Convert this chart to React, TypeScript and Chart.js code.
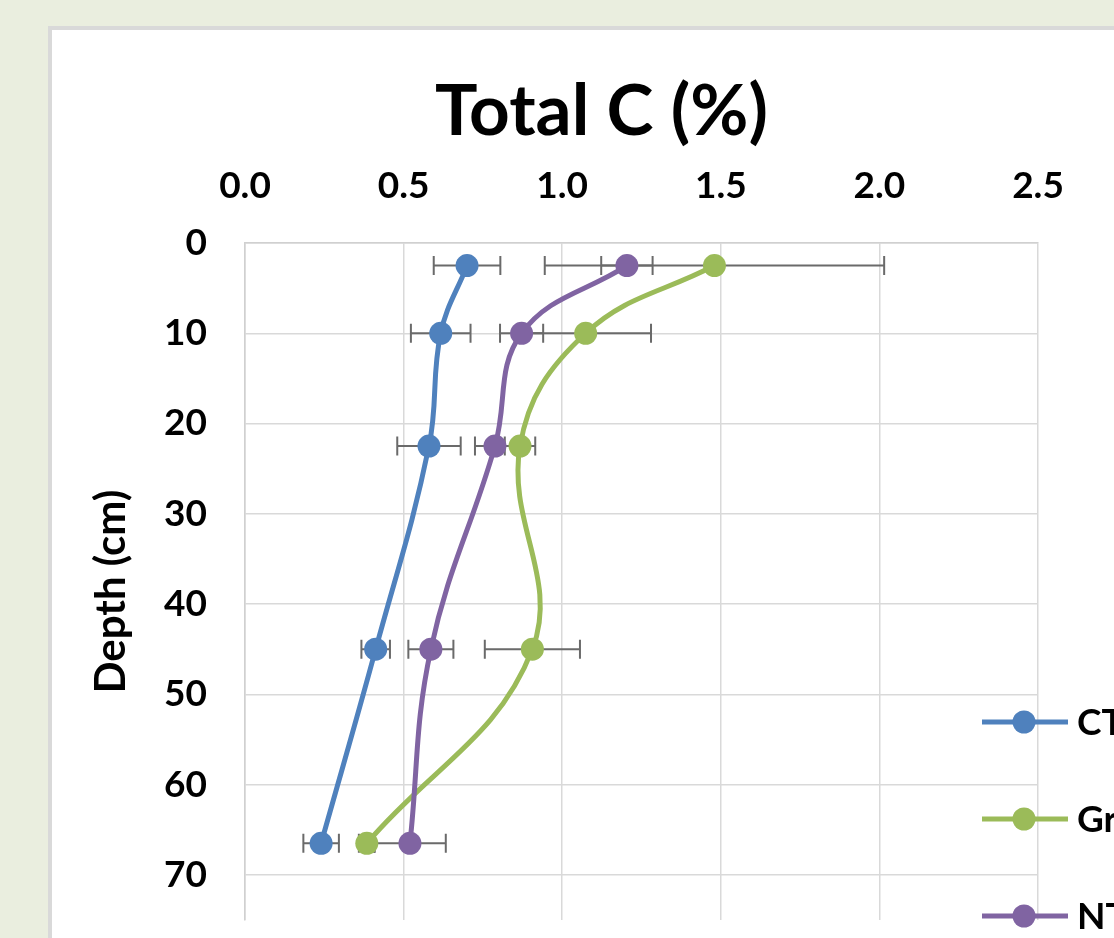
import React, { useEffect, useRef } from "react";
import { Chart, registerables } from "chart.js";

Chart.register(...registerables);

// ---- data ----
const depths = [2.5, 10, 22.5, 45, 66.5];
const ctValues = [0.70, 0.617, 0.58, 0.412, 0.24];
const ctErrors = [0.105, 0.094, 0.10, 0.045, 0.056];
const grassValues = [1.48, 1.074, 0.867, 0.906, 0.384];
const grassErrors = [0.535, 0.206, 0.048, 0.15, 0.025];
const ntValues = [1.204, 0.872, 0.788, 0.586, 0.52];
const ntErrors = [0.081, 0.068, 0.063, 0.071, 0.113];
const seriesNames = ["CT", "Grass", "NT"];
const xTickValues = [0, 0.5, 1.0, 1.5, 2.0, 2.5];
const yTickValues = [0, 10, 20, 30, 40, 50, 60, 70];
const chartTitle = "Total C (%)";
const yAxisTitle = "Depth (cm)";

const COLORS = ["#4f81bd", "#9bbb59", "#8064a2"];
const FONT = "Lato, 'Open Sans', sans-serif";

const errorBarPlugin = {
  id: "errorBars",
  beforeDatasetsDraw(chart: any) {
    const ctx = chart.ctx;
    const xs = chart.scales.x;
    const ys = chart.scales.y;
    ctx.save();
    ctx.strokeStyle = "#6a6a6a";
    ctx.lineWidth = 2;
    chart.data.datasets.forEach((ds: any) => {
      const errs: number[] = ds.errors || [];
      ds.data.forEach((p: any, i: number) => {
        const e = errs[i];
        if (e == null) return;
        const y = ys.getPixelForValue(p.y);
        const x1 = xs.getPixelForValue(p.x - e);
        const x2 = xs.getPixelForValue(p.x + e);
        const cap = 9.5;
        ctx.beginPath();
        ctx.moveTo(x1, y);
        ctx.lineTo(x2, y);
        ctx.moveTo(x1, y - cap);
        ctx.lineTo(x1, y + cap);
        ctx.moveTo(x2, y - cap);
        ctx.lineTo(x2, y + cap);
        ctx.stroke();
      });
    });
    ctx.restore();
  },
};

const textPlugin = {
  id: "customText",
  afterDraw(chart: any) {
    const ctx = chart.ctx;
    ctx.save();
    ctx.fillStyle = "#000";
    // chart title
    ctx.font = `bold 71px ${FONT}`;
    ctx.textAlign = "center";
    ctx.textBaseline = "alphabetic";
    ctx.fillText(chartTitle, 601.5, 135);
    // y axis title
    ctx.save();
    ctx.translate(111, 591.5);
    ctx.rotate(-Math.PI / 2);
    ctx.font = `bold 42px ${FONT}`;
    ctx.textAlign = "center";
    ctx.textBaseline = "middle";
    ctx.fillText(yAxisTitle, 0, 0);
    ctx.restore();
    // legend
    const rowY = [722, 819, 916];
    chart.data.datasets.forEach((ds: any, i: number) => {
      const y = rowY[i];
      ctx.strokeStyle = ds.borderColor;
      ctx.lineWidth = 5;
      ctx.beginPath();
      ctx.moveTo(982, y);
      ctx.lineTo(1068, y);
      ctx.stroke();
      ctx.fillStyle = ds.pointBackgroundColor;
      ctx.beginPath();
      ctx.arc(1024, y, 11.5, 0, Math.PI * 2);
      ctx.fill();
      ctx.fillStyle = "#000";
      ctx.font = `bold 37px ${FONT}`;
      ctx.textAlign = "left";
      ctx.textBaseline = "middle";
      ctx.fillText(ds.label, 1077, y + 1);
    });
    ctx.restore();
  },
};

function makeDataset(label: string, values: number[], errors: number[], color: string, order: number) {
  return {
    label,
    data: values.map((v, i) => ({ x: v, y: depths[i] })),
    errors,
    showLine: true,
    borderColor: color,
    backgroundColor: color,
    pointBackgroundColor: color,
    pointBorderColor: color,
    pointBorderWidth: 0,
    pointRadius: 11.5,
    borderWidth: 5,
    tension: 0.4,
    order,
  };
}

export default function App() {
  const ref = useRef<HTMLCanvasElement>(null);
  useEffect(() => {
    if (!ref.current) return;
    const chart = new Chart(ref.current, {
      type: "scatter",
      data: {
        datasets: [
          makeDataset(seriesNames[0], ctValues, ctErrors, COLORS[0], 2),
          makeDataset(seriesNames[1], grassValues, grassErrors, COLORS[1], 1),
          makeDataset(seriesNames[2], ntValues, ntErrors, COLORS[2], 0),
        ] as any,
      },
      options: {
        animation: false,
        responsive: false,
        layout: { padding: { left: 0, top: 0, right: 76, bottom: 18 } },
        plugins: {
          legend: { display: false },
          title: { display: false },
          tooltip: { enabled: false },
        },
        scales: {
          x: {
            type: "linear",
            position: "top",
            min: 0,
            max: 2.5,
            afterBuildTicks: (s: any) => {
              s.ticks = xTickValues.map((v) => ({ value: v }));
            },
            afterFit: (s: any) => {
              s.height = 243;
              s.paddingLeft = 0;
              s.paddingRight = 0;
            },
            ticks: {
              callback: (v: any) => Number(v).toFixed(1),
              font: { family: FONT, weight: "bold", size: 37 },
              color: "#000",
              padding: 35,
              maxRotation: 0,
            },
            grid: { color: "#d9d9d9", lineWidth: 1.5, drawTicks: false },
            border: { color: "#d0d0d0", width: 1.5 },
          },
          y: {
            type: "linear",
            position: "left",
            reverse: true,
            min: 0,
            max: 75,
            afterBuildTicks: (s: any) => {
              s.ticks = yTickValues.map((v) => ({ value: v }));
            },
            afterFit: (s: any) => {
              s.width = 245;
              s.paddingTop = 0;
              s.paddingBottom = 0;
            },
            ticks: {
              font: { family: FONT, weight: "bold", size: 37 },
              color: "#000",
              padding: 38,
            },
            grid: { color: "#d9d9d9", lineWidth: 1.5, drawTicks: false },
            border: { color: "#d0d0d0", width: 1.5 },
          },
        },
      },
      plugins: [errorBarPlugin, textPlugin],
    });
    return () => chart.destroy();
  }, []);

  return (
    <div
      style={{
        position: "fixed",
        left: 0,
        top: 0,
        width: 1114,
        height: 938,
        overflow: "hidden",
        background: "#eaeedf",
      }}
    >
      <div
        style={{
          position: "absolute",
          left: 48,
          top: 26,
          width: 1200,
          height: 1000,
          background: "#ffffff",
          border: "4px solid #d9d9d9",
        }}
      />
      <canvas
        ref={ref}
        width={1114}
        height={938}
        style={{ position: "absolute", left: 0, top: 0, width: 1114, height: 938 }}
      />
    </div>
  );
}
